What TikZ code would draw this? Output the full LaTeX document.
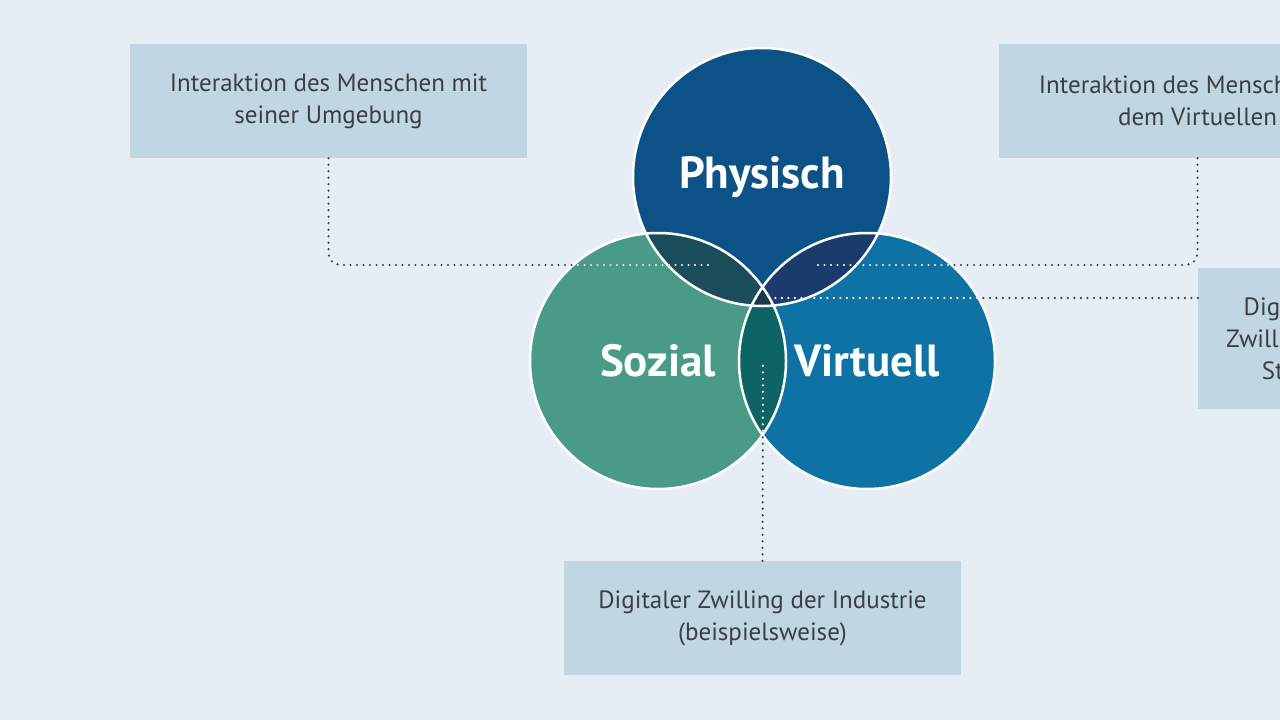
\documentclass[tikz,border=0pt]{standalone}
\usepackage{fontspec}
\setmainfont{PT Sans}
\usetikzlibrary{positioning}
\definecolor{bg}{HTML}{E6EDF4}
\definecolor{boxc}{HTML}{C0D6E3}
\definecolor{phys}{HTML}{0C5287}
\definecolor{soz}{HTML}{4A9A88}
\definecolor{virt}{HTML}{0E72A4}
\definecolor{ps}{HTML}{1B4C5A}
\definecolor{pv}{HTML}{1B3B6C}
\definecolor{sv}{HTML}{0E6464}
\definecolor{psv}{HTML}{173A48}
\definecolor{txt}{HTML}{3A3F44}
\tikzset{
  infobox/.style={fill=boxc, text=txt, align=center, minimum width=397pt, minimum height=114pt, inner sep=0pt, font=\fontsize{25}{32}\selectfont},
  circlabel/.style={text=white, font=\fontsize{45}{50}\selectfont\bfseries},
  dotline/.style={line width=2.4pt, line cap=round, dash pattern=on 0pt off 6.5pt, rounded corners=12pt},
}
\begin{document}
\begin{tikzpicture}[x=1pt,y=-1pt]
\clip (0,0) rectangle (1280,720);
\fill[bg] (0,0) rectangle (1280,720);
% boxes
\node[infobox] (lbox) at (328.5,101) {Interaktion des Menschen mit\\seiner Umgebung};
\node[infobox] (rbox) at (1197.5,101) {Interaktion des Menschen mit\\dem Virtuellen};
\node[infobox, minimum width=184pt, minimum height=141pt] (mbox) at (1290,338.5) {Digitaler\\Zwilling der\\Stadt};
\node[infobox] (bbox) at (762.5,618) {Digitaler Zwilling der Industrie\\(beispielsweise)};
% circles
\coordinate (cp) at (762,177);
\coordinate (cs) at (658,361);
\coordinate (cv) at (867,361);
\fill[phys] (cp) circle (129);
\fill[soz] (cs) circle (128);
\fill[virt] (cv) circle (128);
\begin{scope}\clip (cp) circle (129); \fill[ps] (cs) circle (128); \fill[pv] (cv) circle (128);\end{scope}
\begin{scope}\clip (cs) circle (128); \fill[sv] (cv) circle (128);
  \clip (cp) circle (129); \fill[psv] (cv) circle (128);\end{scope}
\draw[white, line width=2.5pt] (cp) circle (129) (cs) circle (128) (cv) circle (128);
\node[circlabel] (lphys) at (cp) {Physisch};
\node[circlabel] (lsoz) at (cs) {Sozial};
\node[circlabel] (lvirt) at (cv) {Virtuell};
% connectors
\coordinate (e1) at (712,265);
\coordinate (e2) at (815,265);
\coordinate (e3) at (770,298);
\coordinate (e4) at (763,360);
\draw[dotline, txt] (lbox.south) |- (e1);
\draw[dotline, txt] (rbox.south) |- (e2);
\draw[dotline, txt] (mbox.west |- e3) -- (e3);
\draw[dotline, txt] (bbox.north) -- (e4);
\begin{scope}
  \clip (cp) circle (129) (cs) circle (128) (cv) circle (128);
  \draw[dotline, white] (lbox.south) |- (e1);
  \draw[dotline, white] (rbox.south) |- (e2);
  \draw[dotline, white] (mbox.west |- e3) -- (e3);
  \draw[dotline, white] (bbox.north) -- (e4);
\end{scope}
\end{tikzpicture}
\end{document}
